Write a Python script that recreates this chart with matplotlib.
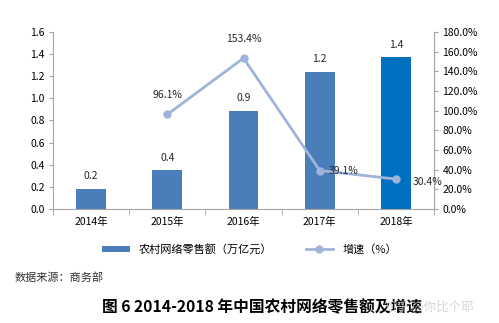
import numpy as np
import matplotlib.pyplot as plt

plt.rcParams['font.family'] = ['Noto Sans CJK SC', 'DejaVu Sans']

years = ["2014年", "2015年", "2016年", "2017年", "2018年"]
sales = [0.18, 0.35, 0.89, 1.24, 1.37]
sales_labels = ["0.2", "0.4", "0.9", "1.2", "1.4"]
growth = [np.nan, 96.1, 153.4, 39.1, 30.4]
growth_labels = ["", "96.1%", "153.4%", "39.1%", "30.4%"]

bar_colors = ["#4a7ebb", "#4a7ebb", "#4a7ebb", "#4a7ebb", "#0070c0"]
line_color = "#9fb4d8"
grey = "#a6a6a6"

fig = plt.figure(figsize=(4.99, 3.23), dpi=100)
ax = fig.add_axes([0.106, 0.353, 0.764, 0.548])
x = np.arange(len(years))

bars = ax.bar(x, sales, width=0.39, color=bar_colors, label="农村网络零售额（万亿元）")
for xi, v, t in zip(x, sales, sales_labels):
    ax.text(xi, v + 0.07, t, ha="center", va="bottom", fontsize=7.5, color="#262626")

ax.set_xlim(-0.5, 4.5)
ax.set_ylim(0, 1.6)
ax.set_yticks(np.arange(0, 1.61, 0.2))
ax.set_yticklabels([f"{v:.1f}" for v in np.arange(0, 1.61, 0.2)], fontsize=7.5)
ax.set_xticks(x)
ax.set_xticklabels(years, fontsize=7.5)
ax.set_xticks(np.arange(-0.5, 4.6, 1), minor=True)
ax.tick_params(axis="x", which="major", length=0, pad=6)
ax.tick_params(axis="x", which="minor", length=4, color=grey, direction="out")
ax.tick_params(axis="y", length=3, color=grey, pad=3)
ax.spines["top"].set_visible(False)
for s in ["left", "bottom", "right"]:
    ax.spines[s].set_color(grey)

ax2 = ax.twinx()
ax2.plot(x, growth, color=line_color, lw=2, marker="o", ms=5, label="增速（%）")
ax2.set_ylim(0, 180)
ax2.set_yticks(np.arange(0, 181, 20))
ax2.set_yticklabels([f"{v:.1f}%" for v in np.arange(0, 181, 20)], fontsize=7.5)
ax2.tick_params(axis="y", length=3, color=grey, pad=3)
ax2.spines["top"].set_visible(False)
ax2.spines["left"].set_visible(False)
ax2.spines["bottom"].set_visible(False)
ax2.spines["right"].set_color(grey)

offsets = [(0, 0), (0, 14), (0, 14), (17, 0), (23, -2)]
for xi, g, t, (dx, dy) in zip(x, growth, growth_labels, offsets):
    if t:
        ax2.annotate(t, (xi, g), xytext=(dx, dy), textcoords="offset points",
                     ha="center", va="center", fontsize=7.5, color="#262626")

h1, l1 = ax.get_legend_handles_labels()
h2, l2 = ax2.get_legend_handles_labels()
fig.legend(h1 + h2, l1 + l2, loc="center", bbox_to_anchor=(0.5, 0.228), ncol=2,
           frameon=False, fontsize=8, handlelength=2.5, columnspacing=3,
           handleheight=0.4)

fig.text(0.03, 0.142, "数据来源：商务部", fontsize=8, color="#333333", va="center")
fig.text(0.525, 0.048, "图 6 2014-2018 年中国农村网络零售额及增速", fontsize=11.3,
         fontweight="bold", ha="center", va="center", color="black")
fig.text(0.86, 0.048, "知乎 @你比个耶", fontsize=9, ha="center", va="center",
         color="#cccccc", alpha=0.8)

fig.savefig("out.png", dpi=100)
